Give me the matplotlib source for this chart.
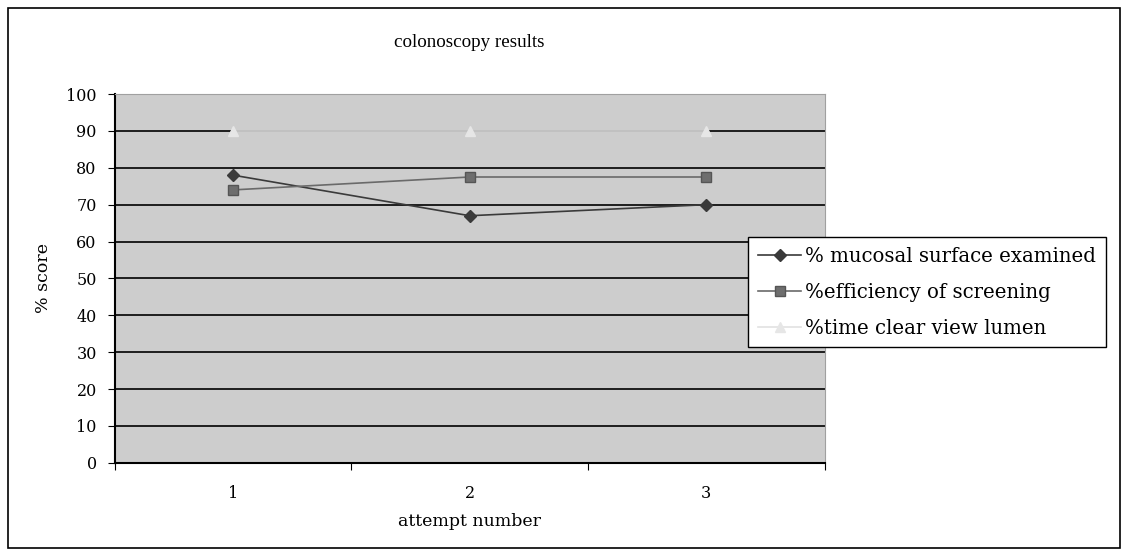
import matplotlib.pyplot as plt
import numpy as np
from matplotlib.patches import Rectangle

plt.rcParams['font.family'] = ['DejaVu Serif', 'Liberation Serif']

attempts = [1, 2, 3]
mucosal = [78, 67, 70]
efficiency = [74, 77.5, 77.5]
clear_view = [90, 90, 90]
labels = ["% mucosal surface examined", "%efficiency of screening", "%time clear view lumen"]

fig = plt.figure(figsize=(11.25, 5.53), dpi=100)
ax = fig.add_axes([0.102, 0.163, 0.631, 0.667])

ax.set_facecolor("#cdcdcd")
ax.set_xlim(0.5, 3.5)
ax.set_ylim(0, 100)

for y in range(10, 100, 10):
    ax.axhline(y, color="black", lw=1.2, zorder=1)

ax.plot(attempts, mucosal, "-", color="#3a3a3a", lw=1.2, marker="D", ms=6,
        mfc="#3a3a3a", mec="#3a3a3a", label=labels[0], zorder=3)
ax.plot(attempts, efficiency, "-", color="#6a6a6a", lw=1.2, marker="s", ms=7,
        mfc="#6e6e6e", mec="#555555", label=labels[1], zorder=3)
ax.plot(attempts, clear_view, "-", color="#e2e2e2", lw=1.2, marker="^", ms=7,
        mfc="#e6e6e6", mec="#e6e6e6", label=labels[2], zorder=3)

ax.set_yticks(range(0, 101, 10))
ax.set_xticks([0.5, 1.5, 2.5, 3.5])
ax.set_xticklabels([])
ax.set_xticks(attempts, minor=True)
ax.set_xticklabels([str(a) for a in attempts], minor=True)
ax.tick_params(axis="x", which="minor", length=0, pad=16, labelsize=11.5)
ax.tick_params(axis="x", which="major", length=5, direction="out")
ax.tick_params(axis="y", length=5, direction="out", labelsize=11.5, pad=8)

for s in ["top", "right"]:
    ax.spines[s].set_color("#a0a0a0")
    ax.spines[s].set_linewidth(0.8)
ax.spines["left"].set_linewidth(1.5)
ax.spines["bottom"].set_linewidth(1.5)

ax.set_title("colonoscopy results", fontsize=13.7, family="Liberation Serif", pad=34)
ax.set_xlabel("attempt number", fontsize=12.5, labelpad=8)
ax.set_ylabel("% score", fontsize=12.5, labelpad=10)

fig.legend(loc="upper left", bbox_to_anchor=(0.665, 0.571), fontsize=14.2,
           frameon=True, fancybox=False, edgecolor="black", framealpha=1,
           handlelength=2.2, handletextpad=0.2, borderpad=0.5, labelspacing=0.85,
           borderaxespad=0)

fig.patches.append(Rectangle((8 / 1125, 5 / 553), 1112 / 1125, 540 / 553,
                             transform=fig.transFigure, fill=False,
                             edgecolor="black", lw=1.2))

fig.savefig("out.png", dpi=100)
